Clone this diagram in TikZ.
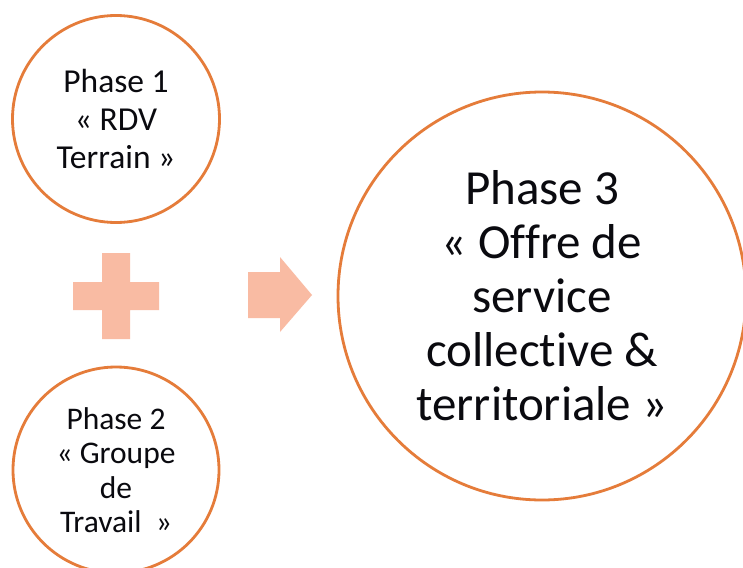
\documentclass[tikz,border=0pt]{standalone}
\usepackage{fontspec}
\setmainfont[Ligatures=NoCommon]{Carlito}
\definecolor{ringorange}{RGB}{229,124,58}
\definecolor{peach}{RGB}{249,187,163}
\definecolor{inktext}{RGB}{10,10,15}
\tikzset{
  phase/.style={circle, draw=ringorange, line width=2.8pt, fill=white, inner sep=0pt, align=center, text=inktext},
  shapefill/.style={fill=peach, draw=none}
}
\begin{document}
\begin{tikzpicture}[x=1pt, y=-1pt]
\useasboundingbox[fill=white] (0,0) rectangle (743,567);
\node[phase, minimum size=207pt, font=\fontsize{33.5}{38}\selectfont] (p1) at (116,119) {Phase 1\\« RDV\\Terrain »};
\node[phase, minimum size=206pt, font=\fontsize{31.5}{34.5}\selectfont] (p2) at (116,470) {Phase 2\\« Groupe\\de\\Travail\ \ »};
\node[phase, minimum size=408pt, font=\fontsize{49}{54}\selectfont] (p3) at (542,296) {Phase 3\\« Offre de\\service\\collective \&\\territoriale »};
% plus sign
\fill[shapefill] (102,253) -- (130,253) -- (130,282) -- (159,282) -- (159,310) -- (130,310) -- (130,339) -- (102,339) -- (102,310) -- (73,310) -- (73,282) -- (102,282) -- cycle;
% block arrow
\fill[shapefill] (248,272) -- (280,272) -- (280,257) -- (312,295) -- (280,332) -- (280,318) -- (248,318) -- cycle;
\end{tikzpicture}
\end{document}
